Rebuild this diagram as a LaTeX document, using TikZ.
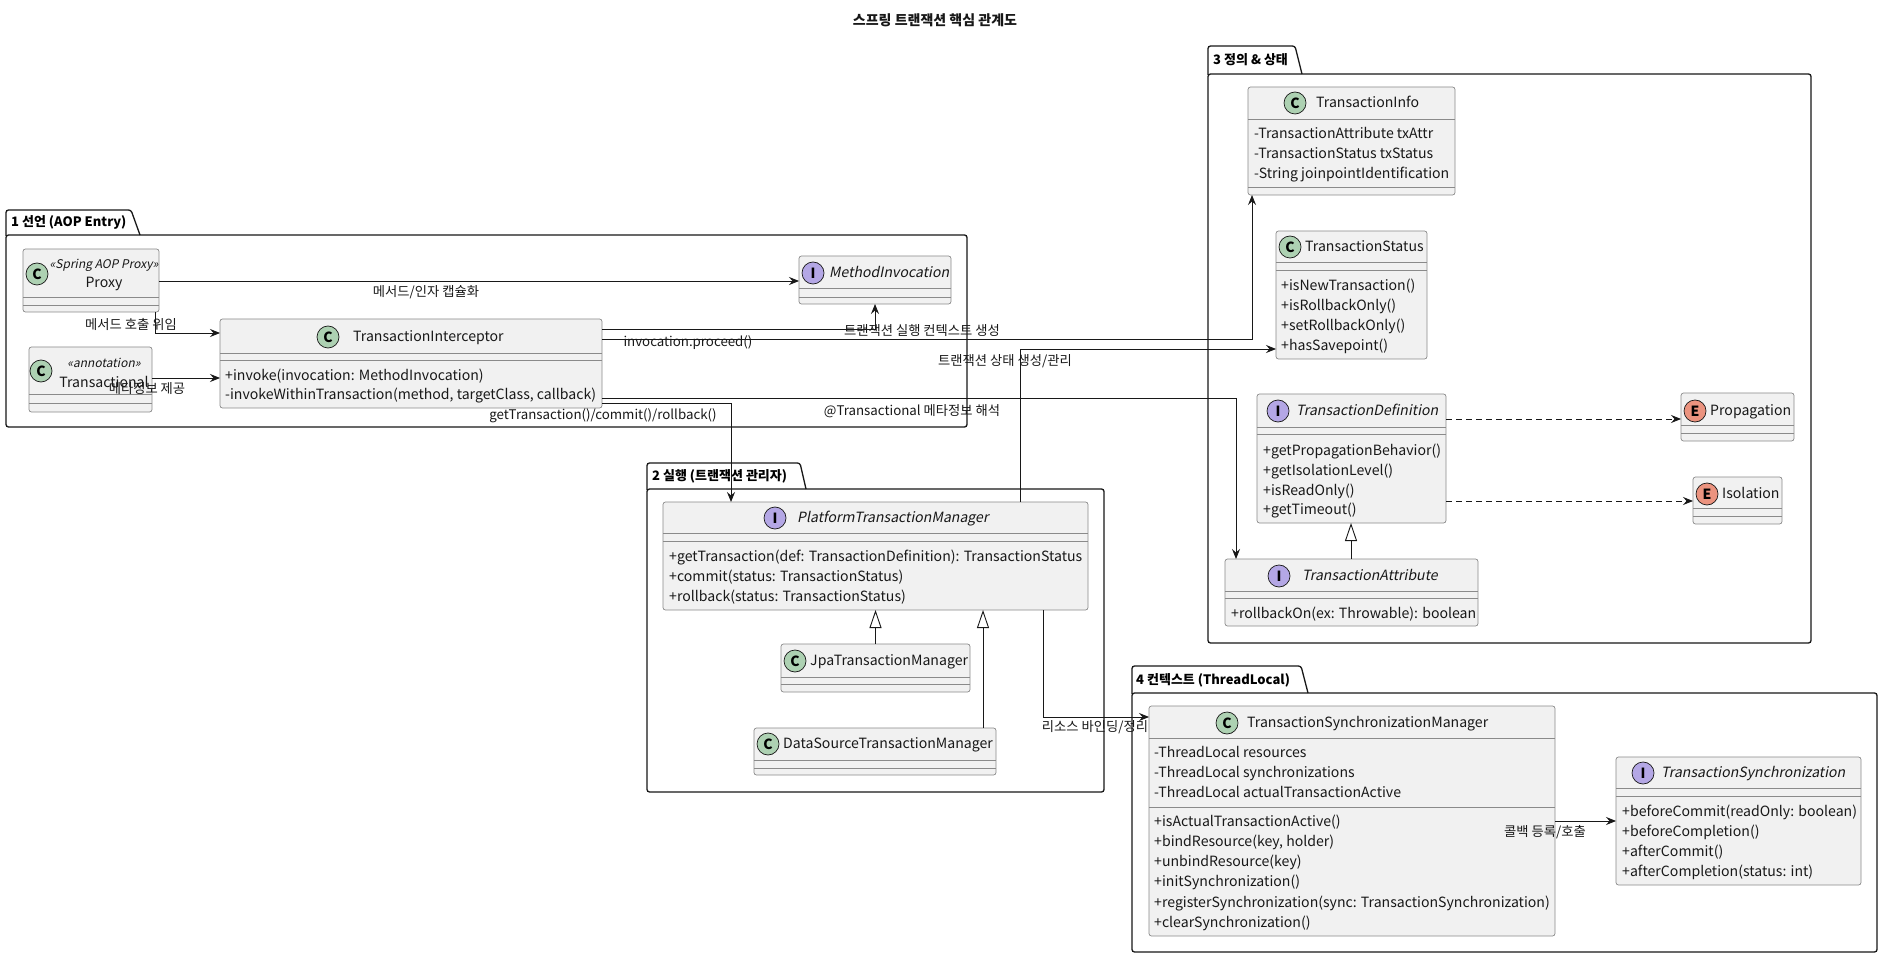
\documentclass[tikz,border=0pt]{standalone}
\usepackage{fontspec}
\setmainfont{Noto Sans CJK KR}
\newfontfamily\itf{Noto Sans CJK KR}[FakeSlant=0.2]
\usetikzlibrary{arrows.meta}
\definecolor{boxfill}{HTML}{F1F1F1}
\definecolor{boxline}{HTML}{8A8A8A}
\definecolor{cgreen}{HTML}{ADD1B2}
\definecolor{ipurple}{HTML}{B4A7E5}
\definecolor{eorange}{HTML}{EB937F}
\definecolor{ink}{HTML}{181818}
\newcommand\mfont{\fontsize{14.1}{17}\selectfont}
\newcommand\lfont{\fontsize{13.3}{16}\selectfont}
\newcommand\sfont{\fontsize{12}{15}\selectfont}
\newcommand\sepline[2]{\draw[sepl] (#1.west |- 0,#2) -- (#1.east |- 0,#2);}
\begin{document}
\begin{tikzpicture}[x=1pt,y=-1pt,
  cls/.style={draw=boxline, fill=boxfill, rounded corners=2.5pt, line width=0.7pt, inner sep=0pt, outer sep=0pt, anchor=north west},
  sepl/.style={draw=boxline, line width=0.7pt},
  pkg/.style={draw=ink, line width=1.3pt, rounded corners=2.5pt},
  ico/.style={circle, draw=ink, line width=0.7pt, minimum size=22pt, inner sep=0pt, font=\bfseries\fontsize{14}{14}\selectfont},
  txt/.style={anchor=west, inner sep=0pt, font=\mfont, text height=10.5pt, text depth=1pt, text=ink},
  itxt/.style={txt, font=\mfont\itf},
  ctxt/.style={inner sep=0pt, font=\mfont, text height=10.5pt, text depth=1pt, text=ink},
  stxt/.style={inner sep=0pt, font=\sfont\itf, text height=9.5pt, text depth=1pt, text=ink},
  lbl/.style={inner sep=0pt, font=\lfont, text height=10.5pt, text depth=1pt, text=ink},
  ptxt/.style={anchor=west, inner sep=0pt, font=\bfseries\fontsize{13}{16}\selectfont, text height=10pt, text depth=1pt, text=black},
  arr/.style={draw=ink, line width=0.9pt, -{Stealth[length=10pt,width=8pt,inset=3.5pt]}},
  darr/.style={arr, dash pattern=on 6pt off 4pt},
  ext/.style={draw=ink, line width=0.9pt, -{Triangle[length=18pt,width=12pt,fill=white]}}
]
\useasboundingbox (0,0) rectangle (1882,957);
\fill[white] (0,0) rectangle (1882,957);

% title
\node[inner sep=0pt, font=\bfseries\fontsize{14}{17}\selectfont, text=ink] (title) at (935,20) {스프링 트랜잭션 핵심 관계도};

% ---------------- packages ----------------
\draw[pkg] (6,236) |- (131,210) -- (140,235);
\draw[pkg] (6,235) rectangle (967,427);
\node[ptxt] (p1) at (11,222) {1 선언 (AOP Entry)};

\draw[pkg] (647,490) |- (800,463) -- (806,489);
\draw[pkg] (647,489) rectangle (1104,792);
\node[ptxt] (p2) at (652,476) {2 실행 (트랜잭션 관리자)};

\draw[pkg] (1208,75) |- (1295,46) -- (1302,74);
\draw[pkg] (1208,74) rectangle (1811,643);
\node[ptxt] (p3) at (1213,60) {3 정의 \& 상태};

\draw[pkg] (1132,694) |- (1301,666) -- (1308,693);
\draw[pkg] (1132,693) rectangle (1877,952);
\node[ptxt] (p4) at (1136,680) {4 컨텍스트 (ThreadLocal)};

% ---------------- package 1 ----------------
\node[cls, minimum width=136pt, minimum height=63pt] (proxy) at (23,249) {};
\sepline{proxy}{297}\sepline{proxy}{305}
\node[ico, fill=cgreen] (proxy-ic) at (37,274) {C};
\node[stxt] (proxy-st) at (104,264) {«Spring AOP Proxy»};
\node[ctxt] (proxy-n) at (104,283) {Proxy};

\node[cls, minimum width=123pt, minimum height=65pt] (trans) at (29,347) {};
\sepline{trans}{394}\sepline{trans}{403}
\node[ico, fill=cgreen] (trans-ic) at (41,371) {C};
\node[stxt] (trans-st) at (104,363) {«annotation»};
\node[ctxt] (trans-n) at (104,383) {Transactional};

\node[cls, minimum width=382pt, minimum height=89pt] (ti) at (220,319) {};
\sepline{ti}{353}\sepline{ti}{360}
\node[ico, fill=cgreen] (ti-ic) at (328,337) {C};
\node[txt] (ti-n) at (353,337) {TransactionInterceptor};
\node[txt] (ti-m1) at (225,376) {+invoke(invocation: MethodInvocation)};
\node[txt] (ti-m2) at (225,395) {-invokeWithinTransaction(method, targetClass, callback)};

\node[cls, minimum width=152pt, minimum height=48pt] (mi) at (799,256) {};
\sepline{mi}{288}\sepline{mi}{297}
\node[ico, fill=ipurple] (mi-ic) at (813,273) {I};
\node[itxt] (mi-n) at (829,273) {MethodInvocation};

% ---------------- package 3 ----------------
\node[cls, minimum width=207pt, minimum height=108pt] (tinfo) at (1248,87) {};
\sepline{tinfo}{119}\sepline{tinfo}{187}
\node[ico, fill=cgreen] (tinfo-ic) at (1295,103) {C};
\node[txt] (tinfo-n) at (1316,103) {TransactionInfo};
\node[txt] (tinfo-a1) at (1254,134) {-TransactionAttribute txAttr};
\node[txt] (tinfo-a2) at (1254,154) {-TransactionStatus txStatus};
\node[txt] (tinfo-a3) at (1254,174) {-String joinpointIdentification};

\node[cls, minimum width=151pt, minimum height=128pt] (ts) at (1276,231) {};
\sepline{ts}{262}\sepline{ts}{270}
\node[ico, fill=cgreen] (ts-ic) at (1290,247) {C};
\node[txt] (ts-n) at (1305,247) {TransactionStatus};
\node[txt] (ts-m1) at (1281,286) {+isNewTransaction()};
\node[txt] (ts-m2) at (1281,306) {+isRollbackOnly()};
\node[txt] (ts-m3) at (1281,326) {+setRollbackOnly()};
\node[txt] (ts-m4) at (1281,346) {+hasSavepoint()};

\node[cls, minimum width=189pt, minimum height=129pt] (td) at (1257,394) {};
\sepline{td}{427}\sepline{td}{434}
\node[ico, fill=ipurple] (td-ic) at (1278,411) {I};
\node[itxt] (td-n) at (1296,411) {TransactionDefinition};
\node[txt] (td-m1) at (1263,451) {+getPropagationBehavior()};
\node[txt] (td-m2) at (1263,471) {+getIsolationLevel()};
\node[txt] (td-m3) at (1263,491) {+isReadOnly()};
\node[txt] (td-m4) at (1263,510) {+getTimeout()};

\node[cls, minimum width=113pt, minimum height=48pt] (prop) at (1681,393) {};
\sepline{prop}{425}\sepline{prop}{433}
\node[ico, fill=eorange] (prop-ic) at (1695,411) {E};
\node[txt] (prop-n) at (1710,411) {Propagation};

\node[cls, minimum width=89pt, minimum height=47pt] (iso) at (1693,477) {};
\sepline{iso}{508}\sepline{iso}{516}
\node[ico, fill=eorange] (iso-ic) at (1707,494) {E};
\node[txt] (iso-n) at (1722,494) {Isolation};

\node[cls, minimum width=253pt, minimum height=67pt] (ta) at (1225,559) {};
\sepline{ta}{591}\sepline{ta}{598}
\node[ico, fill=ipurple] (ta-ic) at (1279,576) {I};
\node[itxt] (ta-n) at (1302,576) {TransactionAttribute};
\node[txt] (ta-m1) at (1231,614) {+rollbackOn(ex: Throwable): boolean};

% ---------------- package 2 ----------------
\node[cls, minimum width=425pt, minimum height=108pt] (ptm) at (663,502) {};
\sepline{ptm}{533}\sepline{ptm}{541}
\node[ico, fill=ipurple] (ptm-ic) at (775,518) {I};
\node[itxt] (ptm-n) at (797,518) {PlatformTransactionManager};
\node[txt] (ptm-m1) at (669,557) {+getTransaction(def: TransactionDefinition): TransactionStatus};
\node[txt] (ptm-m2) at (669,577) {+commit(status: TransactionStatus)};
\node[txt] (ptm-m3) at (669,597) {+rollback(status: TransactionStatus)};

\node[cls, minimum width=189pt, minimum height=48pt] (jpa) at (781,644) {};
\sepline{jpa}{677}\sepline{jpa}{684}
\node[ico, fill=cgreen] (jpa-ic) at (795,661) {C};
\node[txt] (jpa-n) at (810,661) {JpaTransactionManager};

\node[cls, minimum width=242pt, minimum height=47pt] (ds) at (754,728) {};
\sepline{ds}{760}\sepline{ds}{768}
\node[ico, fill=cgreen] (ds-ic) at (768,744) {C};
\node[txt] (ds-n) at (783,744) {DataSourceTransactionManager};

% ---------------- package 4 ----------------
\node[cls, minimum width=406pt, minimum height=230pt] (tsm) at (1149,706) {};
\sepline{tsm}{738}\sepline{tsm}{807}
\node[ico, fill=cgreen] (tsm-ic) at (1227,723) {C};
\node[txt] (tsm-n) at (1247,723) {TransactionSynchronizationManager};
\node[txt] (tsm-a1) at (1154,753) {-ThreadLocal resources};
\node[txt] (tsm-a2) at (1154,773) {-ThreadLocal synchronizations};
\node[txt] (tsm-a3) at (1154,793) {-ThreadLocal actualTransactionActive};
\node[txt] (tsm-m1) at (1154,822) {+isActualTransactionActive()};
\node[txt] (tsm-m2) at (1154,842) {+bindResource(key, holder)};
\node[txt] (tsm-m3) at (1154,862) {+unbindResource(key)};
\node[txt] (tsm-m4) at (1154,882) {+initSynchronization()};
\node[txt] (tsm-m5) at (1154,903) {+registerSynchronization(sync: TransactionSynchronization)};
\node[txt] (tsm-m6) at (1154,923) {+clearSynchronization()};

\node[cls, minimum width=245pt, minimum height=128pt] (tsync) at (1616,757) {};
\sepline{tsync}{788}\sepline{tsync}{796}
\node[ico, fill=ipurple] (tsync-ic) at (1643,773) {I};
\node[itxt] (tsync-n) at (1661,773) {TransactionSynchronization};
\node[txt] (tsync-m1) at (1622,812) {+beforeCommit(readOnly: boolean)};
\node[txt] (tsync-m2) at (1622,832) {+beforeCompletion()};
\node[txt] (tsync-m3) at (1622,852) {+afterCommit()};
\node[txt] (tsync-m4) at (1622,872) {+afterCompletion(status: int)};

% ---------------- connectors ----------------
\draw[arr] (proxy.east |- 0,281) -- (mi.west |- 0,281);
\node[lbl] (l1) at (426,292) {메서드/인자 캡슐화};

\draw[arr] ([xshift=-4pt]proxy.south east) |- (ti.west |- 0,333);
\node[lbl] (l2) at (131,325) {메서드 호출 위임};

\draw[arr] (trans.east |- 0,378) -- (ti.west |- 0,378);
\node[lbl] (l3) at (147,389) {메타정보 제공};

\draw[arr] (ti.east |- 0,329) -| (mi.south);
\node[lbl] (l4) at (922,331) {트랜잭션 실행 컨텍스트 생성};

\draw[arr] (ti.east |- 0,339) -| ([xshift=4pt]tinfo.south west);
\node[lbl] (l5) at (688,342) {invocation.proceed()};

\draw[arr] (ptm.north -| 1020,0) |- (ts.west |- 0,349);
\node[lbl] (l6) at (1005,361) {트랜잭션 상태 생성/관리};

\draw[arr] (ti.east |- 0,398) -| ([xshift=11pt]ta.north west);
\node[lbl] (l7) at (912,411) {@Transactional 메타정보 해석};

\draw[arr] (ti.east |- 0,403) -| ([xshift=68pt]ptm.north west);
\node[lbl] (l8) at (603,415) {getTransaction()/commit()/rollback()};

\draw[arr] (ptm.south -| 1043,0) |- (tsm.west |- 0,717);
\node[lbl] (l9) at (1095,727) {리소스 바인딩/정리};

\draw[arr] (tsm.east |- 0,821) -- (tsync.west |- 0,821);
\node[lbl] (l10) at (1545,832) {콜백 등록/호출};

\draw[darr] (td.east |- 0,419) -- (prop.west |- 0,419);
\draw[darr] (td.east |- 0,501) -- (iso.west |- 0,501);

\draw[ext] (ta.north -| 1351,0) -- (td.south -| 1351,0);
\draw[ext] (jpa.north) -- (ptm.south -| jpa.north);
\draw[ext] (ds.north -| 983,0) -- (ptm.south -| 983,0);
\end{tikzpicture}
\end{document}
